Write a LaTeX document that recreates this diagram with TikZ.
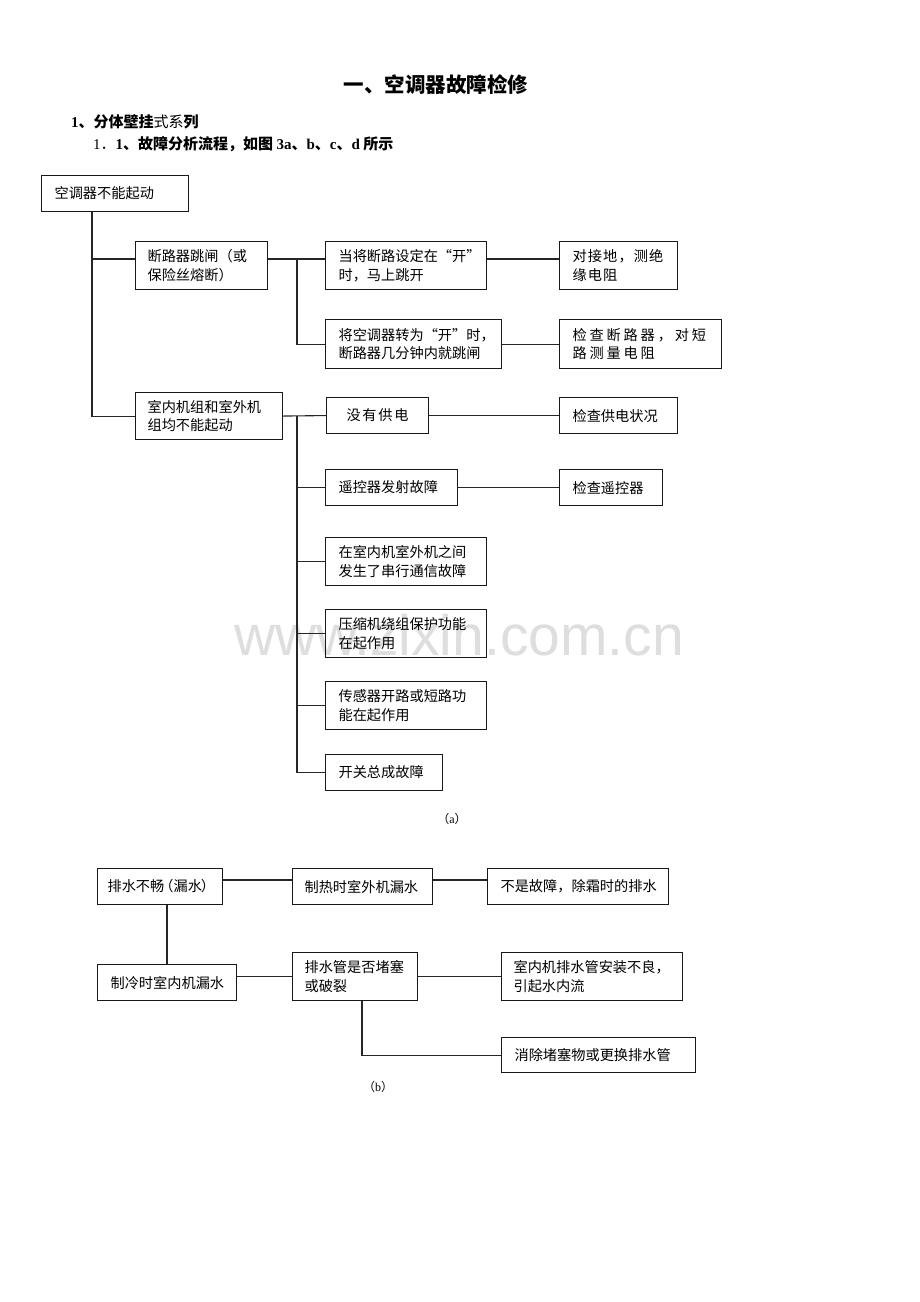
\documentclass[tikz,border=0pt]{standalone}
\usepackage{fontspec}
\setmainfont{Noto Sans CJK SC}
\newfontfamily\lat{Liberation Serif}
\newfontfamily\wmfont{Liberation Sans}
\newcommand\bxfont{\fontsize{14.2}{18.5}\selectfont}
\newcommand\bx[7][]{%
  \pgfmathsetmacro\bxw{#5-#3-26}%
  \pgfmathsetmacro\bxh{#6-#4}%
  \node[box, text width=\bxw pt, minimum height=\bxh pt, #1] (#2) at (#3,#4) {#7};}
\tikzset{
  box/.style={draw=black!90, line width=1.1pt, anchor=north west, inner xsep=13pt, inner ysep=1pt, align=left, font=\bxfont},
  conn/.style={draw=black!85, line width=1.1pt},
  spread/.style={font=\bxfont\addfontfeature{LetterSpace=#1}}
}
\begin{document}
\begin{tikzpicture}[x=1pt,y=-1pt]
\fill[white] (0,0) rectangle (920,1302);
\useasboundingbox (0,0) rectangle (920,1302);
% watermark
\node[text=black!13, font=\wmfont\fontsize{57}{60}\selectfont] (wm) at (459,635) {www.zixin.com.cn};
% headings
\node[font=\bfseries\fontsize{20.5}{24}\selectfont] (title) at (436,85) {一、空调器故障检修};
\node[anchor=west, inner sep=0pt, font=\fontsize{15}{18}\selectfont] (h1) at (71,122)
  {\textbf{{\lat 1}、分体壁挂}式系\textbf{列}};
\node[anchor=west, inner sep=0pt, font=\fontsize{15}{18}\selectfont] (h2) at (93,144)
  {{\lat 1}．\textbf{{\lat 1}、故障分析流程，如图 {\lat 3a}、{\lat b}、{\lat c}、{\lat d} 所示}};

% ---------- (a) ----------
\bx{a0}{41}{175}{188}{211}{空调器不能起动}
\bx[inner xsep=12pt, text width=108pt]{b1}{135}{241}{267}{289}{断路器跳闸（或\\保险丝熔断）}
\bx[inner xsep=12pt, text width=123pt]{b2}{135}{392}{282}{439}{室内机组和室外机\\组均不能起动}
\bx{c1}{325}{241}{486}{289}{当将断路设定在“开”\\时，马上跳开}
\bx{c2}{325}{319}{501}{368}{将空调器转为“开”时，\\断路器几分钟内就跳闸}
\bx[spread=12, align=center]{c3}{326}{397}{428}{433}{没有供电}
\bx[spread=8]{d1}{559}{241}{677}{289}{对接地，测绝\\缘电阻}
\bx[spread=20]{d2}{559}{319}{721}{368}{检查断路器，对短\\路测量电阻}
\bx{d3}{559}{397}{677}{433}{检查供电状况}
\bx{c4}{325}{469}{457}{505}{遥控器发射故障}
\bx{d4}{559}{469}{662}{505}{检查遥控器}
\bx{c5}{325}{537}{486}{585}{在室内机室外机之间\\发生了串行通信故障}
\bx{c6}{325}{609}{486}{657}{压缩机绕组保护功能\\在起作用}
\bx{c7}{325}{681}{486}{729}{传感器开路或短路功\\能在起作用}
\bx{c8}{325}{754}{442}{790}{开关总成故障}

\coordinate (j0) at (92,0);
\coordinate (j1) at (297,0);
\coordinate (r1) at (0,259);
\draw[conn] (a0.south -| j0) |- (b2.west);
\draw[conn] (j0 |- r1) -- (b1.west |- r1);
\draw[conn] (b1.east |- r1) -- (c1.west |- r1);
\draw[conn] (c1.east |- r1) -- (d1.west |- r1);
\draw[conn] (j1 |- r1) |- (c2.west);
\draw[conn] (c2.east) -- (d2.west);
\draw[conn] (b2.east) -- (c3.west);
\draw[conn] (c3.east) -- (d3.west);
\draw[conn] (j1 |- b2.east) |- (c8.west);
\draw[conn] (j1 |- c4.west) -- (c4.west);
\draw[conn] (j1 |- c5.west) -- (c5.west);
\draw[conn] (j1 |- c6.west) -- (c6.west);
\draw[conn] (j1 |- c7.west) -- (c7.west);
\draw[conn] (c4.east) -- (d4.west);

\node[font=\fontsize{12}{14}\selectfont] (capa) at (452,819) {（{\lat a}）};

% ---------- (b) ----------
\bx[inner xsep=10pt, text width=105pt]{e1}{97}{868}{222}{904}{排水不畅\kern-5pt（漏水\kern-1pt）}
\bx[inner xsep=12pt, text width=116pt]{e2}{292}{868}{432}{904}{制热时室外机漏水}
\bx{e3}{487}{868}{668}{904}{不是故障，除霜时的排水}
\bx{f1}{97}{964}{236}{1000}{制冷时室内机漏水}
\bx[inner xsep=12pt, text width=101pt]{f2}{292}{952}{417}{1000}{排水管是否堵塞\\或破裂}
\bx[inner xsep=12pt, text width=157pt]{f3}{501}{952}{682}{1000}{室内机排水管安装不良，\\引起水内流}
\bx{f4}{501}{1037}{695}{1072}{消除堵塞物或更换排水管}

\coordinate (r5) at (0,880);
\coordinate (jb) at (167,0);
\coordinate (jc) at (362,0);
\draw[conn] (e1.east |- r5) -- (e2.west |- r5);
\draw[conn] (e2.east |- r5) -- (e3.west |- r5);
\draw[conn] (e1.south -| jb) -- (f1.north -| jb);
\draw[conn] (f2.west -| f1.east) -- (f2.west);
\draw[conn] (f2.east) -- (f3.west);
\draw[conn] (f2.south -| jc) |- (f4.west);

\node[font=\fontsize{12}{14}\selectfont] (capb) at (378,1087) {（{\lat b}）};
\end{tikzpicture}
\end{document}
